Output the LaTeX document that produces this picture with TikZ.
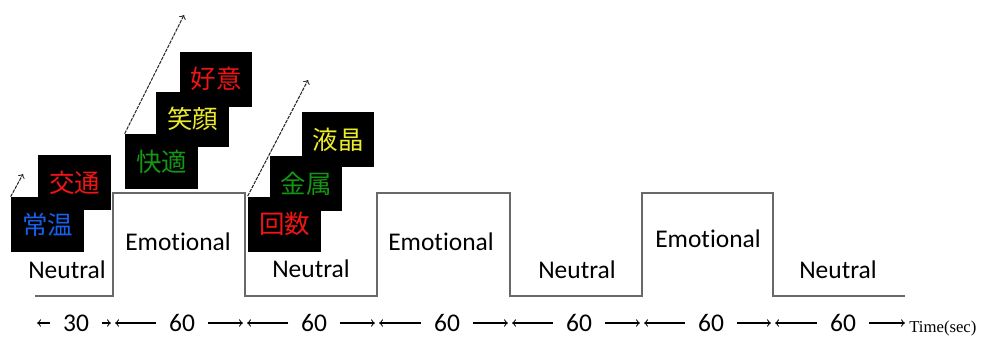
\documentclass[tikz,border=0pt]{standalone}
\usepackage{fontspec}
\setmainfont{Carlito}[Ligatures=NoCommon]
\newfontfamily\cjk{Noto Sans CJK JP}
\newfontfamily\timesfont{Liberation Serif}
\usetikzlibrary{arrows,positioning}
\definecolor{wblue}{RGB}{25,95,235}
\definecolor{wred}{RGB}{240,20,20}
\definecolor{wgreen}{RGB}{20,150,20}
\definecolor{wyellow}{RGB}{235,235,45}
\definecolor{waveline}{RGB}{105,105,105}

\begin{document}
\begin{tikzpicture}[x=0.02cm,y=-0.02cm,
    wave/.style={draw=waveline,line width=0.7pt},
    wordbox/.style={fill=black,minimum width=1.46cm,minimum height=1.1cm,inner sep=0pt,
      font=\cjk\fontsize{14.5}{14.5}\selectfont},
    phase/.style={anchor=base,font=\fontsize{14.5}{14.5}\selectfont},
    num/.style={inner xsep=7pt,inner ysep=0pt,font=\fontsize{14.5}{14.5}\selectfont},
    span/.style={->,>=to,line width=0.6pt,shorten >=1.2pt},
    trend/.style={->,>=to,draw=black!85,line width=0.6pt,dash pattern=on 2pt off 0.6pt}]
  \useasboundingbox (0,0) rectangle (983,336);

  % block design: neutral / emotional periods
  \draw [wave] (35,296) -- (113,296) -- (113,193) -- (245,193) -- (245,296)
    -- (377,296) -- (377,193) -- (510,193) -- (510,296) -- (642,296)
    -- (642,193) -- (773,193) -- (773,296) -- (905,296);
  \node [phase] (n1) at (67,278) {Neutral};
  \node [phase] (e1) at (178,250) {Emotional};
  \node [phase] (n2) at (311,277) {Neutral};
  \node [phase] (e2) at (441,250) {Emotional};
  \node [phase] (n3) at (577,278) {Neutral};
  \node [phase] (e3) at (708,247) {Emotional};
  \node [phase] (n4) at (838,278) {Neutral};

  % word stimuli
  \node [wordbox,text=wblue] (w1a) at (47.5,224.5) {常温};
  \node [wordbox,text=wred] (w1b) at (74.5,182.5) {交通};
  \coordinate (w1end) at (23,174);
  \draw [trend] (w1a.north west) -- (w1end);

  \node [wordbox,text=wgreen] (w2a) at (161.5,161.5) {快適};
  \node [wordbox,text=wyellow] (w2b) at (192.5,119) {笑顔};
  \node [wordbox,text=wred] (w2c) at (216,79) {好意};
  \coordinate (w2end) at (184,15);
  \draw [trend] (w2a.north west) -- (w2end);

  \node [wordbox,text=wred] (w3a) at (284.5,224) {回数};
  \node [wordbox,text=wgreen] (w3b) at (306,183.5) {金属};
  \node [wordbox,text=wyellow] (w3c) at (338,139.5) {液晶};
  \coordinate (w3end) at (308,80);
  \draw [trend] (w3a.north west) -- (w3end);

  % durations
  \coordinate (t0) at (35,323);
  \coordinate (t1) at (113,323);
  \coordinate (t2) at (245,323);
  \coordinate (t3) at (377,323);
  \coordinate (t4) at (510,323);
  \coordinate (t5) at (642,323);
  \coordinate (t6) at (773,323);
  \coordinate (t7) at (907,323);
  \node [num] (d1) at (76,323) {30};
  \node [num] (d2) at (182,323) {60};
  \node [num] (d3) at (314,323) {60};
  \node [num] (d4) at (447,323) {60};
  \node [num] (d5) at (579,323) {60};
  \node [num] (d6) at (711,323) {60};
  \node [num] (d7) at (843,323) {60};
  \draw [span] (d1.west) -- (t0);
  \draw [span] (d1.east) -- (t1);
  \draw [span] (d2.west) -- (t1);
  \draw [span] (d2.east) -- (t2);
  \draw [span] (d3.west) -- (t2);
  \draw [span] (d3.east) -- (t3);
  \draw [span] (d4.west) -- (t3);
  \draw [span] (d4.east) -- (t4);
  \draw [span] (d5.west) -- (t4);
  \draw [span] (d5.east) -- (t5);
  \draw [span] (d6.west) -- (t5);
  \draw [span] (d6.east) -- (t6);
  \draw [span] (d7.west) -- (t6);
  \draw [span] (d7.east) -- (t7);
  \node [anchor=west,inner sep=0pt,font=\timesfont\fontsize{9.5}{9.5}\selectfont] (unit) at (909,328) {Time(sec)};
\end{tikzpicture}
\end{document}
